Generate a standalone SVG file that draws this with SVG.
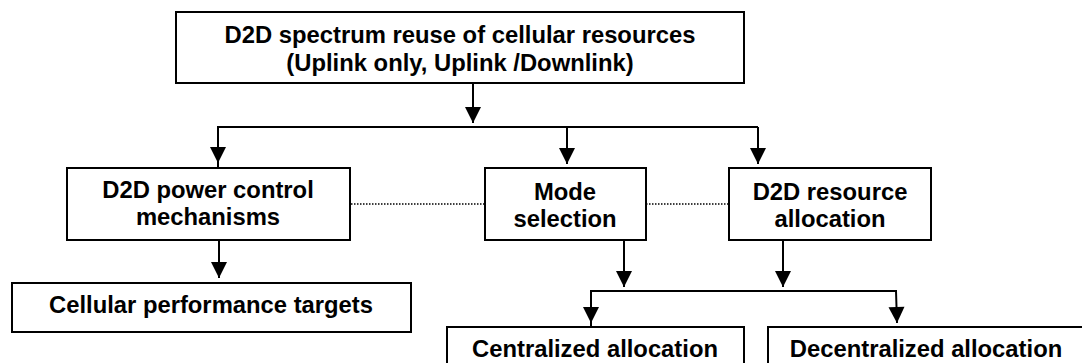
<svg xmlns="http://www.w3.org/2000/svg" width="1082" height="363" viewBox="0 0 1082 363">
<style>
.box{fill:#fff;stroke:#000;stroke-width:2}
.t{font-family:"Liberation Sans",Arial,sans-serif;font-weight:bold;font-size:23.8px;fill:#000;text-anchor:middle}
.c{fill:none;stroke:#000;stroke-width:2}
.d{fill:none;stroke:#000;stroke-width:1.3;stroke-dasharray:1.5 1.5}
</style>
<defs>
<marker id="ah" markerUnits="userSpaceOnUse" markerWidth="18" markerHeight="18" refX="16" refY="8" orient="auto" overflow="visible">
<path d="M0,0 L16,8 L0,16 z" fill="#000"/>
</marker>
</defs>
<rect width="1082" height="363" fill="#fff"/>
<g id="connectors">
<line class="c" x1="473" y1="83" x2="473" y2="123" marker-end="url(#ah)"/>
<polyline class="c" points="218,167 218,127 758,127"/>
<line class="c" x1="218" y1="127" x2="218" y2="163" marker-end="url(#ah)"/>
<line class="c" x1="567" y1="127" x2="567" y2="164" marker-end="url(#ah)"/>
<line class="c" x1="758" y1="127" x2="758" y2="164" marker-end="url(#ah)"/>
<line class="c" x1="219" y1="240" x2="219" y2="278" marker-end="url(#ah)"/>
<line class="c" x1="624" y1="240" x2="624" y2="287" marker-end="url(#ah)"/>
<line class="c" x1="783" y1="240" x2="783" y2="287" marker-end="url(#ah)"/>
<polyline class="c" points="591,327 591,291 897,291"/>
<line class="c" x1="591" y1="291" x2="591" y2="323" marker-end="url(#ah)"/>
<line class="c" x1="896" y1="291" x2="897" y2="323" marker-end="url(#ah)"/>
<line class="d" x1="351" y1="204" x2="485" y2="204"/>
<line class="d" x1="646" y1="204" x2="729" y2="204"/>
</g>
<g id="n-top">
<rect class="box" x="176" y="12" width="568" height="71"/>
<text class="t" x="460" y="43">D2D spectrum reuse of cellular resources</text>
<text class="t" x="460" y="71">(Uplink only, Uplink /Downlink)</text>
</g>
<g id="n-power">
<rect class="box" x="67" y="168" width="283" height="72"/>
<text class="t" x="208" y="198">D2D power control</text>
<text class="t" x="208" y="225">mechanisms</text>
</g>
<g id="n-mode">
<rect class="box" x="485" y="168" width="161" height="72"/>
<text class="t" x="565" y="200">Mode</text>
<text class="t" x="565" y="227">selection</text>
</g>
<g id="n-resource">
<rect class="box" x="729" y="168" width="202" height="72"/>
<text class="t" x="830" y="200">D2D resource</text>
<text class="t" x="830" y="227">allocation</text>
</g>
<g id="n-cellular">
<rect class="box" x="12" y="283" width="399" height="49"/>
<text class="t" x="211" y="313">Cellular performance targets</text>
</g>
<g id="n-central">
<rect class="box" x="447" y="327" width="297" height="50"/>
<text class="t" x="595" y="357">Centralized allocation</text>
</g>
<g id="n-decentral">
<rect class="box" x="768" y="327" width="330" height="50"/>
<text class="t" x="926" y="357">Decentralized allocation</text>
</g>
</svg>
